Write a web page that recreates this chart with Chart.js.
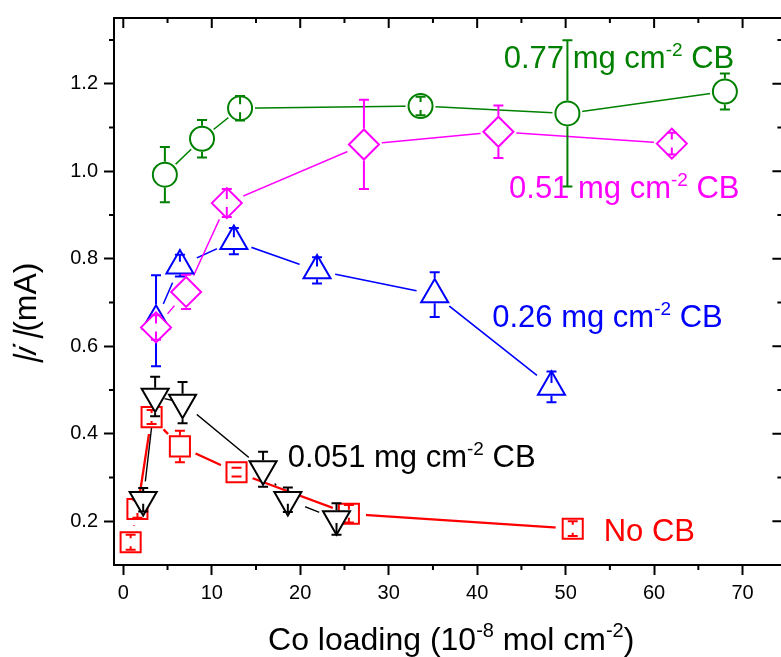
<!DOCTYPE html>
<html>
<head>
<meta charset="utf-8">
<title>Current vs Co loading</title>
<script src="https://cdn.jsdelivr.net/npm/chart.js@4.4.1/dist/chart.umd.min.js"></script>
<style>
  html, body { margin: 0; padding: 0; background: #fff; overflow: hidden; }
  #wrap { width: 781px; height: 657px; overflow: hidden; }
</style>
</head>
<body>
<div id="wrap"><canvas id="chart" width="800" height="657"></canvas></div>
<script>
// Co loading in 1e-8 mol cm-2, |i| in mA, error = half height of the bar
const cb077X = [4.7, 8.9, 13.2, 33.6, 50.2, 68.0];
const cb077Y = [0.992, 1.074, 1.144, 1.149, 1.132, 1.182];
const cb077Err = [0.063, 0.043, 0.028, 0.021, 0.167, 0.041];

const cb051X = [3.7, 7.1, 11.7, 27.2, 42.4, 62.0];
const cb051Y = [0.643, 0.724, 0.927, 1.061, 1.090, 1.063];
const cb051Err = [0.028, 0.039, 0.032, 0.102, 0.060, 0.025];

const cb026X = [3.7, 6.4, 12.5, 21.9, 35.2, 48.4];
const cb026Y = [0.658, 0.784, 0.840, 0.773, 0.718, 0.507];
const cb026Err = [0.104, 0.025, 0.030, 0.030, 0.051, 0.035];

const cb0051X = [2.25, 3.6, 6.7, 15.8, 18.6, 24.1];
const cb0051Y = [0.249, 0.485, 0.471, 0.319, 0.249, 0.205];
const cb0051Err = [0.027, 0.045, 0.047, 0.040, 0.028, 0.036];

const noCbX = [0.83, 1.6, 3.2, 6.4, 12.8, 25.5, 50.8];
const noCbY = [0.152, 0.228, 0.438, 0.371, 0.312, 0.217, 0.183];
const noCbErr = [0.017, 0.020, 0.016, 0.036, 0.010, 0.020, 0.017];

const xTicks = [0, 10, 20, 30, 40, 50, 60, 70];
const xMinor = [5, 15, 25, 35, 45, 55, 65];
const yTicks = [0.2, 0.4, 0.6, 0.8, 1.0, 1.2];
const yMinor = [0.3, 0.5, 0.7, 0.9, 1.1, 1.3];

// label text, left edge (x) and baseline (y) in data units
const cbLabels = ['0.77', '0.51', '0.26', '0.051', null];
const labelX = [43.0, 43.6, 41.7, 18.6, 54.3];
const labelY = [1.236, 0.938, 0.644, 0.325, 0.155];

const FONT = '"Liberation Sans", Arial, sans-serif';

const series = [
  { x: cb077X, y: cb077Y, err: cb077Err, color: '#008000', shape: 'circle', r: 12, rot: 0, up: 13, down: 13, lw: 1.5 },
  { x: cb051X, y: cb051Y, err: cb051Err, color: '#ff00ff', shape: 'rectRot', r: 15, rot: 0, up: 16, down: 16, lw: 1.5 },
  { x: cb026X, y: cb026Y, err: cb026Err, color: '#0000ff', shape: 'triangle', r: 15.6, rot: 0, up: 16.6, down: 8.8, lw: 1.5 },
  { x: cb0051X, y: cb0051Y, err: cb0051Err, color: '#000000', shape: 'triangle', r: 15.6, rot: 180, up: 8.8, down: 16.6, lw: 1.4 },
  { x: noCbX, y: noCbY, err: noCbErr, color: '#ff0000', shape: 'rect', r: 14.2, rot: 0, up: 11, down: 11, lw: 2.3 }
];

function toPoints(xs, ys) {
  return xs.map((x, i) => ({ x, y: ys[i] }));
}

const datasets = [];
series.forEach((s, i) => {
  // connecting line, cut short around its own markers
  datasets.push({
    data: toPoints(s.x, s.y),
    showLine: true,
    borderColor: s.color,
    borderWidth: s.lw,
    pointRadius: 0,
    tension: 0,
    order: 20 + i,
    gapRadius: s.r + 3
  });
  // hollow markers with error bars
  datasets.push({
    data: toPoints(s.x, s.y),
    showLine: false,
    pointStyle: s.shape,
    pointRadius: s.r,
    pointRotation: s.rot,
    pointBorderWidth: 2,
    pointBorderColor: s.color,
    pointBackgroundColor: '#ffffff',
    order: 1 + i,
    errors: s.err,
    edgeUp: s.up,
    edgeDown: s.down
  });
});

const lineGaps = {
  id: 'lineGaps',
  beforeDatasetDraw(chart, args) {
    const ds = chart.data.datasets[args.index];
    if (!ds.gapRadius) return;
    const ctx = chart.ctx;
    ctx.save();
    ctx.beginPath();
    ctx.rect(0, 0, chart.width, chart.height);
    args.meta.data.forEach(pt => {
      ctx.moveTo(pt.x + ds.gapRadius, pt.y);
      ctx.arc(pt.x, pt.y, ds.gapRadius, 0, Math.PI * 2, true);
    });
    ctx.clip('evenodd');
  },
  afterDatasetDraw(chart, args) {
    if (chart.data.datasets[args.index].gapRadius) chart.ctx.restore();
  }
};

const errorBars = {
  id: 'errorBars',
  afterDatasetDraw(chart, args) {
    const ds = chart.data.datasets[args.index];
    if (!ds.errors) return;
    const ctx = chart.ctx;
    const yScale = chart.scales.y;
    ctx.save();
    ctx.strokeStyle = ds.pointBorderColor;
    ctx.lineWidth = 2;
    args.meta.data.forEach((pt, i) => {
      const v = ds.data[i].y;
      const top = yScale.getPixelForValue(v + ds.errors[i]);
      const bot = yScale.getPixelForValue(v - ds.errors[i]);
      ctx.beginPath();
      if (pt.y - top > ds.edgeUp) {
        ctx.moveTo(pt.x, pt.y - ds.edgeUp);
        ctx.lineTo(pt.x, top);
      } else if (pt.y - top > 5) {
        ctx.moveTo(pt.x, pt.y - 4);
        ctx.lineTo(pt.x, top);
      }
      if (bot - pt.y > ds.edgeDown) {
        ctx.moveTo(pt.x, pt.y + ds.edgeDown);
        ctx.lineTo(pt.x, bot);
      } else if (bot - pt.y > 5) {
        ctx.moveTo(pt.x, pt.y + 4);
        ctx.lineTo(pt.x, bot);
      }
      ctx.moveTo(pt.x - 5, top);
      ctx.lineTo(pt.x + 5, top);
      ctx.moveTo(pt.x - 5, bot);
      ctx.lineTo(pt.x + 5, bot);
      ctx.stroke();
    });
    ctx.restore();
  }
};

// top/right frame, minor ticks and inward ticks
const frame = {
  id: 'frame',
  afterDraw(chart) {
    const { ctx, chartArea: a, scales: { x, y } } = chart;
    ctx.save();
    ctx.strokeStyle = '#000';
    ctx.lineWidth = 2;
    ctx.beginPath();
    ctx.moveTo(a.left - 1, a.top);
    ctx.lineTo(a.right, a.top);
    ctx.lineTo(a.right, a.bottom);
    xTicks.forEach(v => {
      const px = x.getPixelForValue(v);
      ctx.moveTo(px, a.top);
      ctx.lineTo(px, a.top + 10);
    });
    xMinor.forEach(v => {
      const px = x.getPixelForValue(v);
      ctx.moveTo(px, a.top);
      ctx.lineTo(px, a.top + 5);
      ctx.moveTo(px, a.bottom);
      ctx.lineTo(px, a.bottom + 5);
    });
    yTicks.forEach(v => {
      const py = y.getPixelForValue(v);
      ctx.moveTo(a.right, py);
      ctx.lineTo(a.right - 10, py);
    });
    yMinor.forEach(v => {
      const py = y.getPixelForValue(v);
      ctx.moveTo(a.right, py);
      ctx.lineTo(a.right - 5, py);
      ctx.moveTo(a.left, py);
      ctx.lineTo(a.left - 5, py);
    });
    ctx.stroke();
    ctx.restore();
  }
};

// runs of [text, kind]: 'n' normal, 's' superscript, 'i' italic
function fontFor(kind, size, supSize) {
  if (kind === 's') return `${supSize}px ${FONT}`;
  if (kind === 'i') return `italic ${size}px ${FONT}`;
  return `${size}px ${FONT}`;
}

function runWidth(ctx, runs, size, supSize) {
  let w = 0;
  runs.forEach(([t, k]) => {
    ctx.font = fontFor(k, size, supSize);
    w += ctx.measureText(t).width;
  });
  return w;
}

function drawRuns(ctx, runs, x, y, size, supSize, raise) {
  let cx = x;
  runs.forEach(([t, k]) => {
    ctx.font = fontFor(k, size, supSize);
    if (k === 'i') {
      // slant the bars too, the italic face keeps them upright
      ctx.save();
      ctx.translate(cx, y);
      ctx.transform(1, 0, -0.22, 1, 0, 0);
      ctx.fillText(t, 0, 0);
      ctx.restore();
    } else {
      ctx.fillText(t, cx, k === 's' ? y - raise : y);
    }
    cx += ctx.measureText(t).width;
  });
}

const texts = {
  id: 'texts',
  afterDraw(chart) {
    const { ctx, chartArea: a, scales: { x, y } } = chart;
    ctx.save();
    ctx.textBaseline = 'alphabetic';
    ctx.textAlign = 'left';

    series.forEach((s, i) => {
      const runs = cbLabels[i]
        ? [[cbLabels[i] + ' mg cm', 'n'], ['-2', 's'], [' CB', 'n']]
        : [['No CB', 'n']];
      ctx.fillStyle = s.color;
      drawRuns(ctx, runs, x.getPixelForValue(labelX[i]), y.getPixelForValue(labelY[i]), 31, 19, 12);
    });

    ctx.fillStyle = '#000';
    const xTitle = [['Co loading (10', 'n'], ['-8', 's'], [' mol cm', 'n'], ['-2', 's'], [')', 'n']];
    const xw = runWidth(ctx, xTitle, 32, 20);
    drawRuns(ctx, xTitle, (a.left + a.right) / 2 + 3 - xw / 2, 650, 32, 20, 13);

    const yTitle = [['|i |', 'i'], ['(mA)', 'n']];
    const yw = runWidth(ctx, yTitle, 32, 20);
    ctx.translate(36, (a.top + a.bottom) / 2 + 22);
    ctx.rotate(-Math.PI / 2);
    drawRuns(ctx, yTitle, -yw / 2, 0, 32, 20, 0);
    ctx.restore();
  }
};

new Chart(document.getElementById('chart'), {
  type: 'scatter',
  data: { datasets },
  plugins: [lineGaps, errorBars, frame, texts],
  options: {
    responsive: false,
    animation: false,
    events: [],
    layout: { padding: { top: 16, right: 16, bottom: 0, left: 0 } },
    plugins: { legend: { display: false }, tooltip: { enabled: false } },
    scales: {
      x: {
        type: 'linear',
        min: -1.05,
        max: 74.5,
        afterBuildTicks: scale => { scale.ticks = xTicks.map(v => ({ value: v })); },
        afterFit: scale => { scale.height = 92; },
        grid: { drawOnChartArea: false, drawTicks: true, tickLength: 10, tickWidth: 2, tickColor: '#000' },
        border: { display: true, color: '#000', width: 2 },
        ticks: { color: '#000', font: { family: FONT, size: 20 }, padding: 6, maxRotation: 0 }
      },
      y: {
        type: 'linear',
        min: 0.1,
        max: 1.35,
        afterBuildTicks: scale => { scale.ticks = yTicks.map(v => ({ value: v })); },
        afterFit: scale => { scale.width = 114; },
        grid: { drawOnChartArea: false, drawTicks: true, tickLength: 10, tickWidth: 2, tickColor: '#000' },
        border: { display: true, color: '#000', width: 2 },
        ticks: {
          color: '#000',
          font: { family: FONT, size: 20 },
          padding: 6,
          callback: v => v.toFixed(1)
        }
      }
    }
  }
});
</script>
</body>
</html>
